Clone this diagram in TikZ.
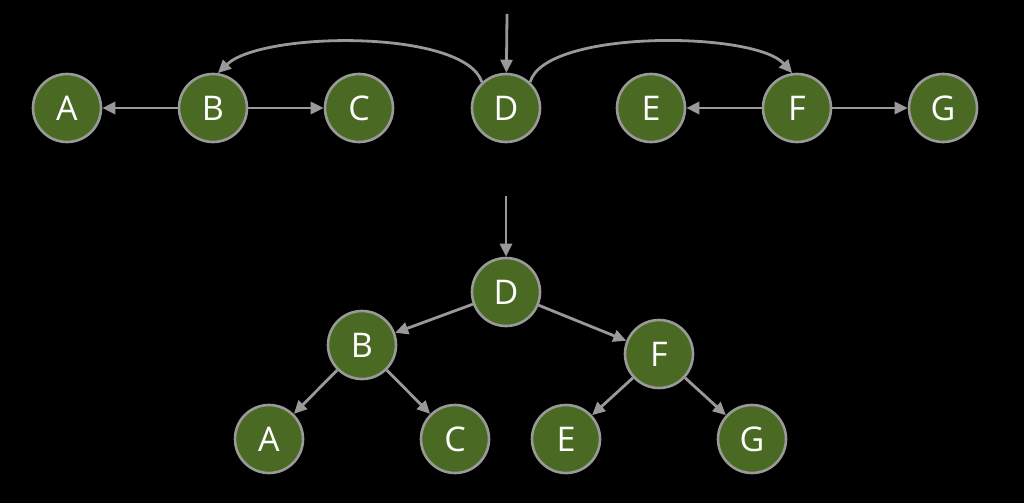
\documentclass[tikz,border=0pt]{standalone}
\usepackage{fontspec}
\setmainfont{Open Sans}
\usetikzlibrary{arrows.meta}
\definecolor{nodefill}{HTML}{4A6A23}
\definecolor{edgegray}{HTML}{999999}
\tikzset{
  vert/.style={circle, draw=edgegray, line width=2.6pt, fill=nodefill, minimum size=68pt, inner sep=0pt,
    text=white, font=\fontsize{34}{34}\selectfont},
  edge/.style={draw=edgegray, line width=2.8pt, -{Triangle[length=13pt,width=12pt]}},
}
\begin{document}
\begin{tikzpicture}[x=1pt,y=-1pt]
\fill[black] (0,0) rectangle (1024,503);
\useasboundingbox (0,0) rectangle (1024,503);
% top row
\node[vert] (a1) at (67,108) {A};
\node[vert] (b1) at (213,108) {B};
\node[vert] (c1) at (359,108) {C};
\node[vert] (d1) at (506,108) {D};
\node[vert] (e1) at (651,108) {E};
\node[vert] (f1) at (797,108) {F};
\node[vert] (g1) at (943,108) {G};
\coordinate (in1) at (507,14);
\draw[edge] (in1) -- (d1);
\draw[edge] (b1) -- (a1);
\draw[edge] (b1) -- (c1);
\draw[edge] (f1) -- (e1);
\draw[edge] (f1) -- (g1);
\draw[edge] (d1.133) .. controls (465,29) and (262,31) .. (b1.82);
\draw[edge] (d1.47) .. controls (545,29) and (755,31) .. (f1.98);
% bottom tree
\node[vert] (d2) at (506,292) {D};
\node[vert] (b2) at (362,345) {B};
\node[vert] (f2) at (659,354) {F};
\node[vert] (a2) at (269,439) {A};
\node[vert] (c2) at (455,439) {C};
\node[vert] (e2) at (566,439) {E};
\node[vert] (g2) at (752,439) {G};
\coordinate (in2) at (506,196);
\draw[edge] (in2) -- (d2);
\draw[edge] (d2) -- (b2);
\draw[edge] (d2) -- (f2);
\draw[edge] (b2) -- (a2);
\draw[edge] (b2) -- (c2);
\draw[edge] (f2) -- (e2);
\draw[edge] (f2) -- (g2);
\end{tikzpicture}
\end{document}
